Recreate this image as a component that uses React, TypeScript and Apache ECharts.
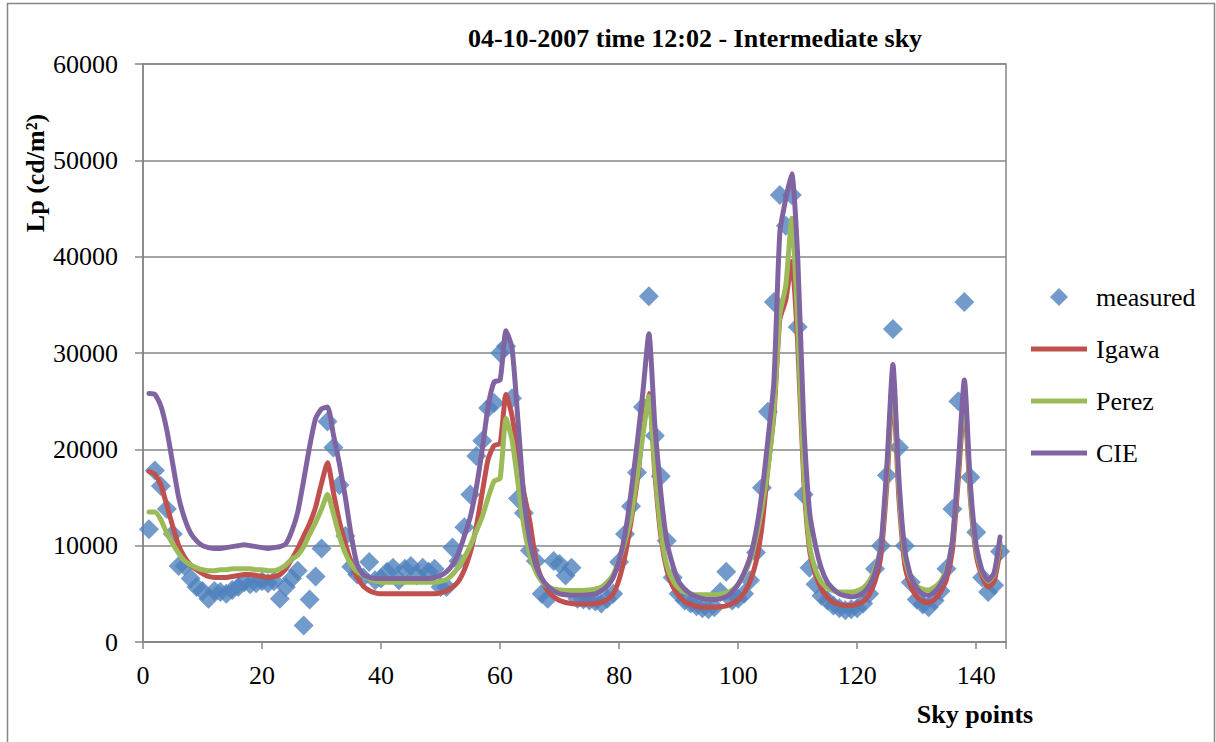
import React, { useEffect, useRef } from "react";
import * as echarts from "echarts";

// Sky patch numbers 1..144 (Tregenza subdivision)
const skyPoints: number[] = Array.from({ length: 144 }, (_, i) => i + 1);

// Measured luminance, cd/m²
const measured: number[] = [
  11700, 17800, 16200, 13800, 11200, 7900, 7900, 6600, 5700, 5300,
  4500, 5300, 5200, 5000, 5400, 5700, 6200, 6000, 6100, 6300,
  6100, 6300, 4500, 5700, 6600, 7400, 1700, 4400, 6800, 9700,
  22900, 20200, 16300, 11000, 7800, 7000, 6700, 8300, 6400, 6600,
  7300, 7700, 6400, 7600, 7900, 6900, 7700, 7300, 7600, 5700,
  5700, 9800, 8400, 11900, 15300, 19300, 20900, 24300, 24800, 30000,
  30700, 25300, 14900, 13400, 9500, 8400, 5000, 4500, 8400, 8100,
  6900, 7700, 4500, 4400, 4300, 4200, 4000, 4500, 5000, 8300,
  11200, 14100, 17600, 24400, 35900, 21400, 17200, 10500, 6700, 5000,
  4300, 4000, 3700, 3500, 3400, 3600, 5200, 7300, 4300, 4500,
  5000, 6400, 9300, 16000, 23900, 35300, 46400, 43200, 46400, 32700,
  15300, 7700, 6000, 4800, 4300, 3800, 3500, 3300, 3400, 3500,
  4000, 5000, 7600, 10000, 17300, 32500, 20200, 10000, 6200, 4400,
  3900, 3600, 4300, 5300, 7600, 13800, 25000, 35300, 17100, 11400,
  6700, 5200, 5900, 9400,
];

// Igawa model
const igawa: number[] = [
  17700, 17400, 16300, 14200, 12000, 10000, 8800, 8000, 7500, 7100,
  6800, 6700, 6700, 6700, 6800, 6900, 7000, 7000, 6900, 6800,
  6700, 6800, 7000, 7600, 8600, 9700, 11000, 12300, 14000, 16500,
  18600, 15500, 12500, 10200, 8200, 6700, 5800, 5350, 5100, 5000,
  5000, 5000, 5000, 5000, 5000, 5000, 5000, 5000, 5000, 5100,
  5300, 5700, 6300, 7500, 9300, 12000, 15500, 19000, 20400, 20600,
  25700, 23500, 19500, 15500, 12500, 8500, 6500, 5300, 4700, 4300,
  4100, 4000, 3950, 3950, 3950, 4000, 4100, 4400, 5000, 6500,
  9000, 12500, 16500, 22000, 25800, 17500, 11000, 7500, 5800, 4800,
  4200, 3900, 3700, 3600, 3600, 3600, 3650, 3750, 4000, 4400,
  5100, 6300, 8300, 12000, 18000, 23500, 33500, 35500, 39500, 31000,
  17000, 9500, 7000, 5500, 4600, 4100, 3900, 3800, 3800, 3900,
  4200, 4900, 6300, 9000, 16500, 26500, 15000, 8000, 5800, 4700,
  4200, 4100, 4400, 5200, 6500, 9500, 17000, 25000, 15000, 9000,
  6800, 5700, 6300, 9500,
];

// Perez model
const perez: number[] = [
  13500, 13500, 12700, 11300, 10200, 9200, 8400, 8000, 7700, 7500,
  7400, 7400, 7500, 7500, 7600, 7600, 7600, 7600, 7500, 7500,
  7400, 7400, 7600, 8000, 8600, 9000, 9900, 11200, 12400, 13800,
  15300, 13300, 11000, 9200, 8000, 7300, 6900, 6550, 6350, 6200,
  6200, 6200, 6200, 6200, 6200, 6200, 6200, 6200, 6200, 6300,
  6500, 7000, 7800, 8800, 10000, 11500, 13000, 15000, 16700, 17000,
  23200, 21000, 16500, 12000, 9000, 7300, 6300, 5800, 5500, 5400,
  5350, 5350, 5350, 5350, 5400, 5500, 5700, 6200, 7000, 8500,
  10500, 13000, 17000, 21500, 25500, 18000, 11500, 8000, 6400, 5600,
  5200, 5000, 4900, 4900, 4900, 4900, 5000, 5100, 5400, 6000,
  7000, 8500, 10800, 14000, 18000, 24000, 34000, 37000, 44000, 33000,
  18000, 10000, 7500, 6200, 5600, 5300, 5200, 5200, 5200, 5300,
  5600, 6300, 7600, 10000, 17500, 27500, 16000, 8800, 6600, 5800,
  5500, 5400, 5700, 6300, 7500, 10500, 18000, 26000, 15500, 9500,
  7200, 6300, 7000, 10300,
];

// CIE standard sky model
const cie: number[] = [
  25800, 25700, 24500, 22000, 18500, 15000, 12800, 11300, 10500, 10000,
  9800, 9700, 9700, 9800, 9900, 10000, 10100, 10000, 9900, 9800,
  9700, 9800, 9900, 10200, 11500, 13500, 16800, 20300, 23200, 24200,
  24400, 21500, 18500, 15000, 11000, 8000, 7000, 6700, 6600, 6600,
  6600, 6600, 6600, 6600, 6600, 6600, 6600, 6600, 6700, 6900,
  7300, 8000, 9200, 11000, 13000, 16000, 20000, 24500, 27000, 27200,
  32300, 30500, 23000, 15000, 10500, 8000, 6600, 5800, 5300, 5000,
  4900, 4850, 4850, 4850, 4900, 5000, 5300, 5800, 6700, 8500,
  11200, 15500, 20500, 26000, 32000, 22500, 15500, 10500, 8000, 6300,
  5500, 5000, 4700, 4500, 4400, 4400, 4500, 4700, 5200, 6000,
  7200, 8800, 11500, 15500, 21000, 27000, 42500, 46000, 48600, 40000,
  23000, 13500, 10000, 7600, 6200, 5500, 5000, 4800, 4700, 4800,
  5100, 5800, 7200, 10000, 18500, 28800, 17000, 9500, 6800, 5600,
  5000, 4850, 5200, 6000, 7200, 10500, 18500, 27200, 16500, 10000,
  7400, 6400, 7200, 10900,
];

const chartTitle = "04-10-2007 time 12:02 - Intermediate sky";
const xAxisTitle = "Sky points";
const yAxisTitle = "Lp (cd/m²)";

const FONT = "'Liberation Serif', 'Times New Roman', serif";
const GREY = "#868686";

// Legend icons: a thin bar for the model lines, a square-proportioned diamond for the measurements
const LINE_ICON = "path://M0,0H56V5H0Z";
const DIAMOND_ICON = "path://M10,0L20,10L10,20L0,10Z";

const pairs = (vals: number[]) => vals.map((v, i) => [skyPoints[i], v]);

export default function App() {
  const ref = useRef<HTMLDivElement>(null);

  useEffect(() => {
    if (!ref.current) return;
    const chart = echarts.init(ref.current, null, { renderer: "svg" });

    const lineSeries = (name: string, vals: number[], color: string) => ({
      name,
      type: "line",
      data: pairs(vals),
      symbol: "none",
      showSymbol: false,
      smooth: 0.2,
      color,
      itemStyle: { color },
      lineStyle: { width: 5, color, join: "round", cap: "round" },
      emphasis: { disabled: true },
    });

    chart.setOption({
      animation: false,
      backgroundColor: "#ffffff",
      title: {
        text: chartTitle,
        left: 690,
        top: 20,
        textAlign: "center",
        textStyle: { fontFamily: FONT, fontSize: 26, fontWeight: "bold", color: "#000" },
      },
      grid: {
        left: 143,
        top: 64,
        width: 863,
        height: 578,
        show: true,
        borderColor: GREY,
        borderWidth: 1.5,
        backgroundColor: "transparent",
      },
      legend: {
        orient: "vertical",
        left: 1026,
        top: 279,
        itemWidth: 56,
        itemHeight: 18,
        itemGap: 26,
        symbolKeepAspect: true,
        textStyle: { fontFamily: FONT, fontSize: 26, color: "#000", padding: [0, 0, 0, 4] },
        data: [
          { name: "measured", icon: DIAMOND_ICON },
          { name: "Igawa", icon: LINE_ICON },
          { name: "Perez", icon: LINE_ICON },
          { name: "CIE", icon: LINE_ICON },
        ],
      },
      xAxis: {
        type: "value",
        min: 0,
        max: 145,
        interval: 20,
        axisLine: { show: true, lineStyle: { color: GREY, width: 1.5 } },
        axisTick: { show: true, length: 7, lineStyle: { color: GREY, width: 1.5 } },
        splitLine: { show: false },
        axisLabel: {
          margin: 20,
          fontFamily: FONT,
          fontSize: 26,
          color: "#000",
          formatter: (v: number) => (v % 20 === 0 ? String(v) : ""),
        },
      },
      yAxis: {
        type: "value",
        min: 0,
        max: 60000,
        interval: 10000,
        axisLine: { show: true, lineStyle: { color: GREY, width: 1.5 } },
        axisTick: { show: true, length: 8, lineStyle: { color: GREY, width: 1.5 } },
        splitLine: { show: true, lineStyle: { color: GREY, width: 1.5 } },
        axisLabel: {
          margin: 25,
          fontFamily: FONT,
          fontSize: 26,
          color: "#000",
          formatter: (v: number) => String(v),
        },
      },
      graphic: [
        {
          type: "rect",
          silent: true,
          shape: { x: 7.5, y: 3.5, width: 1207, height: 800 },
          style: { fill: "none", stroke: GREY, lineWidth: 1.5 },
        },
        {
          type: "text",
          x: 35,
          y: 173,
          rotation: Math.PI / 2,
          style: {
            text: yAxisTitle,
            fontFamily: FONT,
            fontSize: 26,
            fontWeight: "bold",
            fill: "#000",
            align: "center",
            verticalAlign: "middle",
          },
        },
        {
          type: "text",
          x: 975,
          y: 714,
          style: {
            text: xAxisTitle,
            fontFamily: FONT,
            fontSize: 26,
            fontWeight: "bold",
            fill: "#000",
            align: "center",
            verticalAlign: "middle",
          },
        },
      ],
      series: [
        {
          name: "measured",
          type: "scatter",
          data: pairs(measured),
          symbol: "diamond",
          symbolSize: 20,
          itemStyle: { color: "#4F81BD" },
          emphasis: { disabled: true },
        },
        lineSeries("Igawa", igawa, "#C0504D"),
        lineSeries("Perez", perez, "#9BBB59"),
        lineSeries("CIE", cie, "#8064A2"),
      ],
    });

    return () => chart.dispose();
  }, []);

  return (
    <div
      ref={ref}
      style={{ position: "fixed", left: 0, top: 0, width: 1216, height: 742, background: "#fff" }}
    />
  );
}
